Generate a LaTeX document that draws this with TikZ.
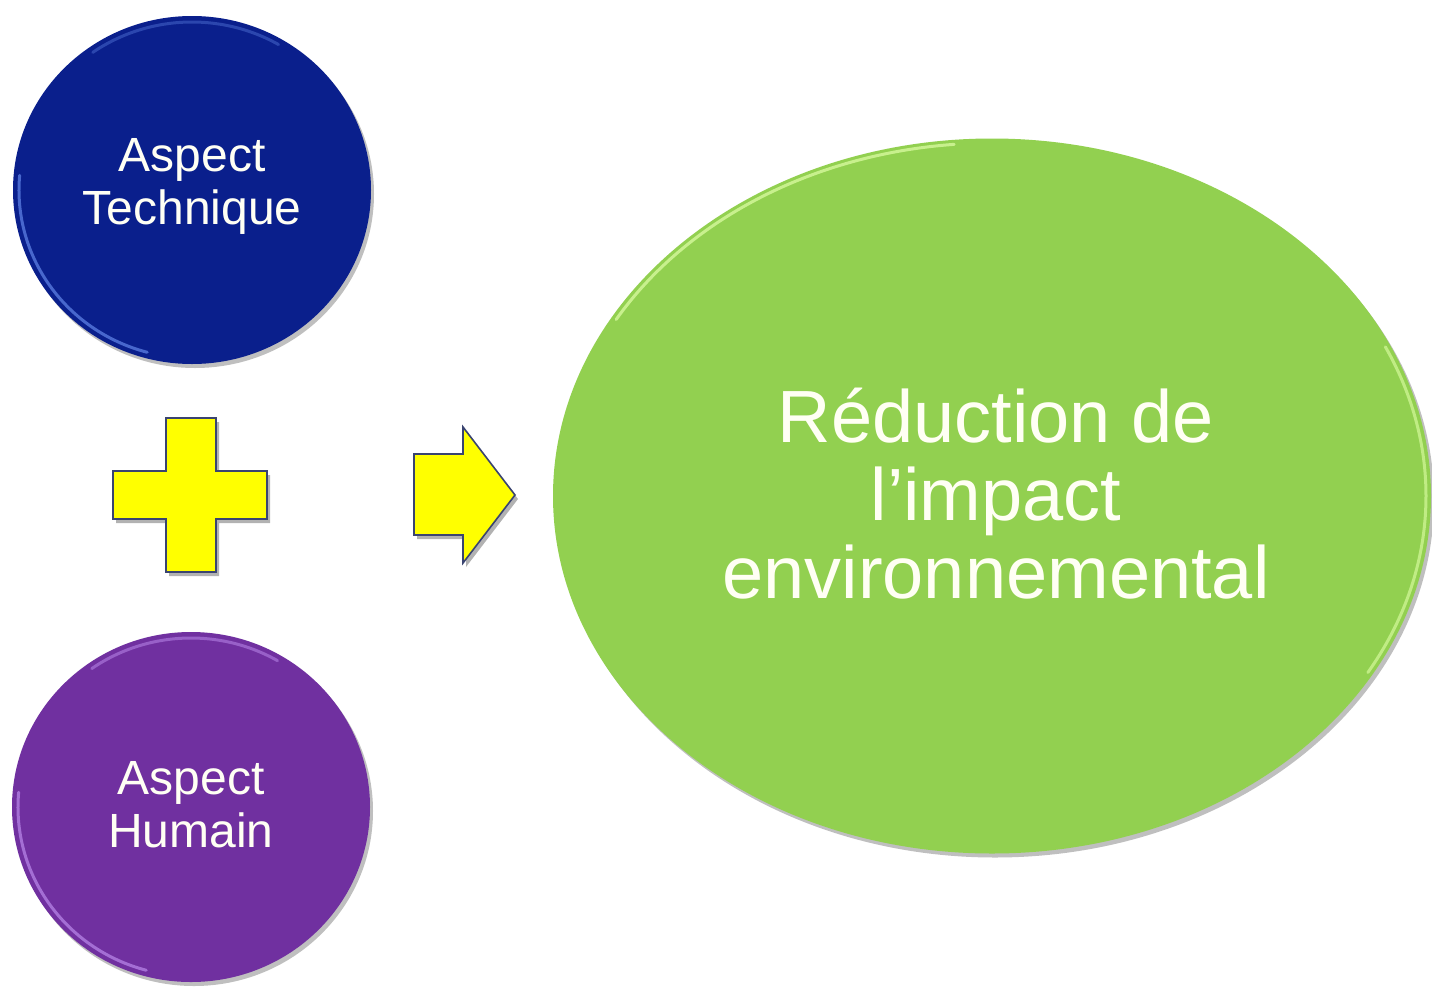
\documentclass[tikz,border=0pt]{standalone}
\usepackage{fontspec}
\setmainfont{Liberation Sans}
\usetikzlibrary{shadows,shapes.geometric}
\definecolor{navy}{HTML}{0A1F8C}
\definecolor{navyhi}{HTML}{6A8FF0}
\definecolor{violet}{HTML}{7030A0}
\definecolor{violethi}{HTML}{C090F0}
\definecolor{leaf}{HTML}{92D050}
\definecolor{leafhi}{HTML}{E0FFA8}
\definecolor{yel}{HTML}{FFFF00}
\definecolor{yedge}{HTML}{3A4470}
\definecolor{txt}{HTML}{FFFFF4}
\tikzset{
  disc/.style={ellipse, inner sep=0pt, text=txt, align=center,
    drop shadow={shadow xshift=3pt, shadow yshift=-4pt, opacity=0.25, fill=black}},
  smalltext/.style={font=\fontsize{48}{53}\selectfont},
  bigtext/.style={font=\fontsize{74}{78}\selectfont},
  yshape/.style={fill=yel, draw=yedge, line width=1.6pt, line join=miter,
    drop shadow={shadow xshift=3pt, shadow yshift=-4pt, opacity=0.3, fill=black}},
  rim/.style={line width=3pt, line cap=round, opacity=0.65}
}
\begin{document}
\begin{tikzpicture}[x=1pt,y=-1pt]
\useasboundingbox (0,0) rectangle (1432,986);
\fill[white] (0,0) rectangle (1432,986);

% blue disc
\node[disc, fill=navy, minimum width=358pt, minimum height=348pt] (tech) at (192,190) {};
\draw[rim, navyhi] (tech.center) ++(175:173pt and 168pt) arc[start angle=175, end angle=255, x radius=173pt, y radius=168pt];
\draw[rim, navyhi, opacity=0.35] (tech.center) ++(60:173pt and 168pt) arc[start angle=60, end angle=125, x radius=173pt, y radius=168pt];
\node[smalltext, text=txt, align=center] (techt) at (192,186) {Aspect\\Technique};

% purple disc
\node[disc, fill=violet, minimum width=358pt, minimum height=350pt] (hum) at (191,807) {};
\draw[rim, violethi] (hum.center) ++(175:173pt and 169pt) arc[start angle=175, end angle=255, x radius=173pt, y radius=169pt];
\draw[rim, violethi, opacity=0.5] (hum.center) ++(60:173pt and 169pt) arc[start angle=60, end angle=125, x radius=173pt, y radius=169pt];
\node[smalltext, text=txt, align=center] (humt) at (191,805) {Aspect\\Humain};

% green ellipse
\node[disc, fill=leaf, minimum width=878pt, minimum height=715pt] (red) at (992,496) {};
\draw[rim, leafhi, opacity=0.7] (red.center) ++(95:434pt and 353pt) arc[start angle=95, end angle=150, x radius=434pt, y radius=353pt];
\draw[rim, leafhi, opacity=0.6] (red.center) ++(-30:434pt and 353pt) arc[start angle=-30, end angle=25, x radius=434pt, y radius=353pt];
\node[bigtext, text=txt, align=center] (redt) at (996,494) {Réduction de\\l’impact\\environnemental};

% plus sign
\coordinate (plus) at (191,495);
\draw[yshape] (166,418) -- (216,418) -- (216,471) -- (267,471) -- (267,519)
  -- (216,519) -- (216,572) -- (166,572) -- (166,519) -- (113,519)
  -- (113,471) -- (166,471) -- cycle;

% arrow
\coordinate (arr) at (464,495);
\draw[yshape] (414,454) -- (463,454) -- (463,427) -- (515,495) -- (463,563)
  -- (463,535) -- (414,535) -- cycle;
\end{tikzpicture}
\end{document}
